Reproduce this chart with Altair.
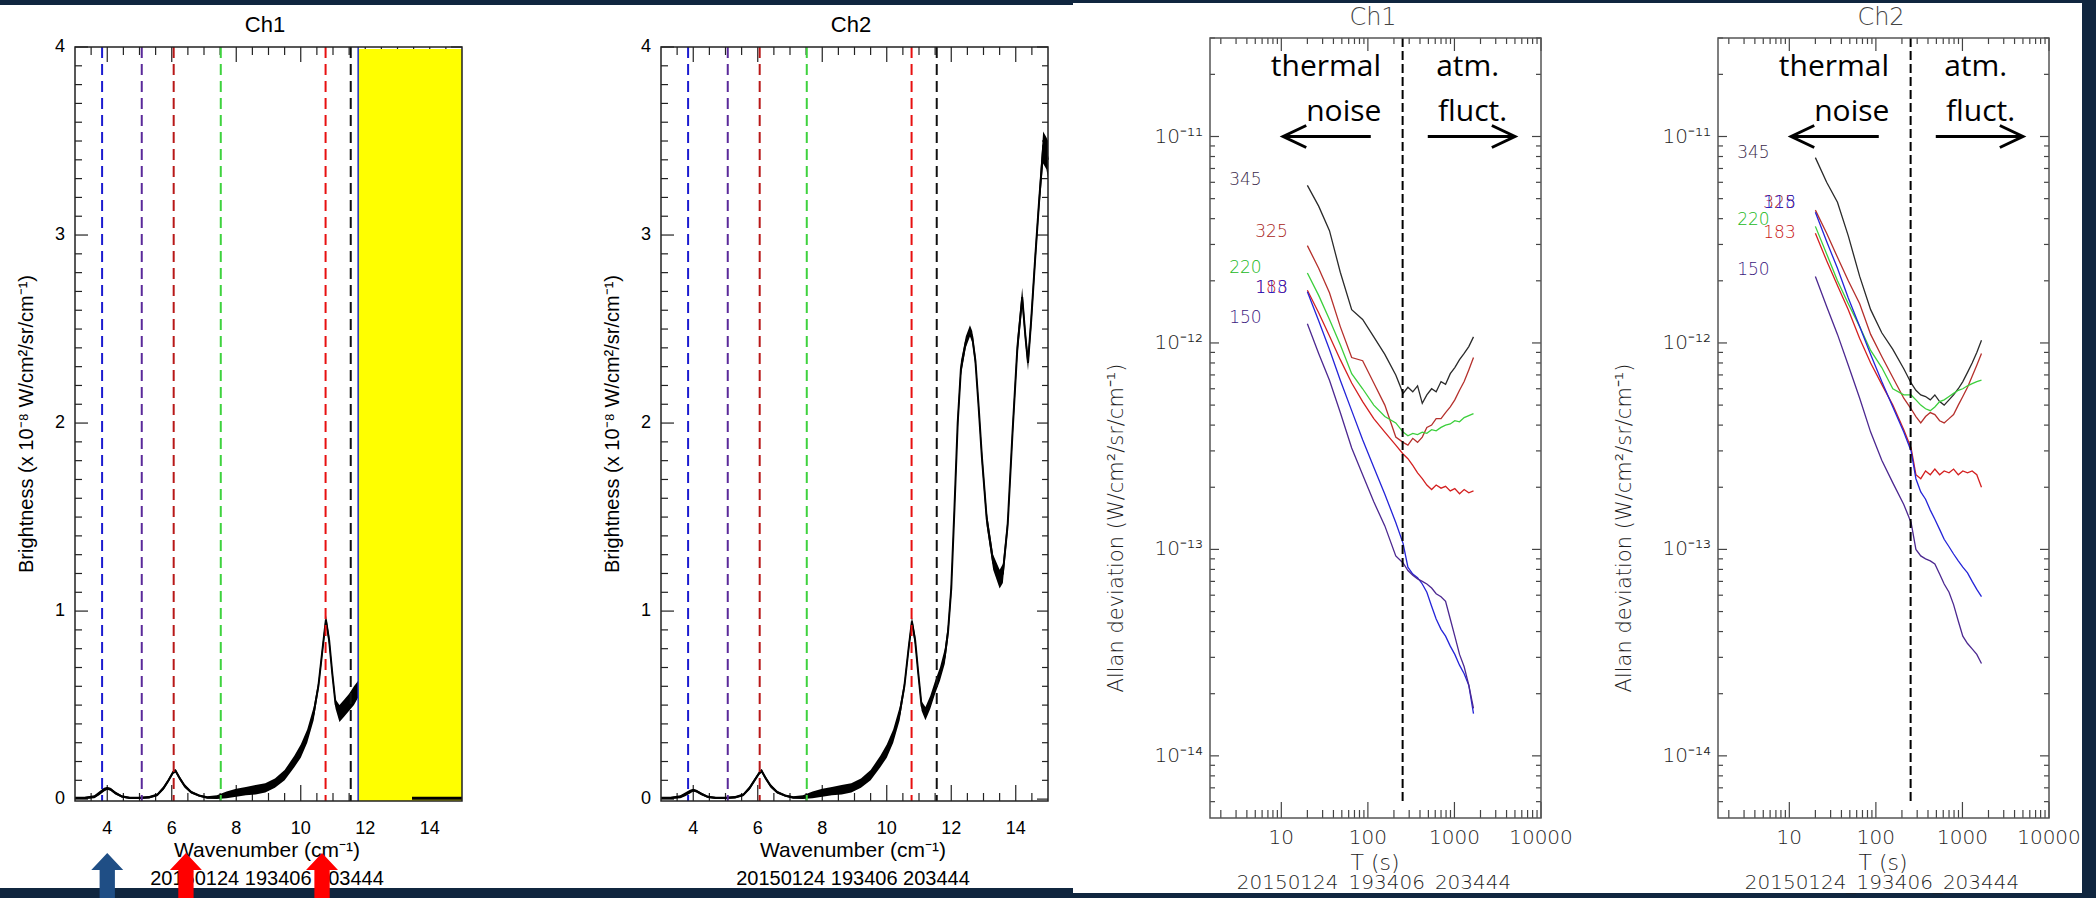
import altair as alt
import pandas as pd

# ---------------- left panels: brightness spectra ----------------
wn1 = [3.0, 3.3, 3.6, 3.75, 3.9, 4.0, 4.1, 4.25, 4.45, 4.7, 5.0, 5.3, 5.55, 5.75, 5.9, 6.05, 6.12, 6.25,
       6.4, 6.6, 6.85, 7.1, 7.4, 7.7, 8.0, 8.3, 8.6, 8.9, 9.2, 9.5, 9.8, 10.0, 10.2, 10.4, 10.55, 10.68,
       10.78, 10.88, 10.98, 11.08, 11.2, 11.35, 11.5, 11.65, 11.78]
lo1 = [0.0, 0.0, 0.005, 0.02, 0.04, 0.05, 0.045, 0.025, 0.008, 0.0, 0.0, 0.003, 0.015, 0.05, 0.09, 0.135,
       0.14, 0.1, 0.06, 0.03, 0.012, 0.002, 0.0, 0.005, 0.012, 0.02, 0.025, 0.035, 0.06, 0.1, 0.17, 0.22,
       0.3, 0.42, 0.58, 0.78, 0.93, 0.82, 0.64, 0.48, 0.41, 0.44, 0.47, 0.5, 0.54]
hi1 = [0.012, 0.012, 0.02, 0.04, 0.06, 0.065, 0.06, 0.04, 0.02, 0.012, 0.012, 0.016, 0.03, 0.07, 0.11,
       0.155, 0.16, 0.12, 0.08, 0.045, 0.025, 0.015, 0.02, 0.04, 0.055, 0.065, 0.075, 0.085, 0.11, 0.155,
       0.23, 0.29, 0.37, 0.49, 0.63, 0.83, 0.98, 0.87, 0.69, 0.53, 0.5, 0.53, 0.56, 0.6, 0.63]

wn2 = [3.0, 3.3, 3.6, 3.75, 3.9, 4.0, 4.1, 4.25, 4.45, 4.7, 5.0, 5.3, 5.55, 5.75, 5.9, 6.05, 6.12, 6.25,
       6.4, 6.6, 6.85, 7.1, 7.4, 7.7, 8.0, 8.3, 8.6, 8.9, 9.2, 9.5, 9.8, 10.0, 10.2, 10.4, 10.55, 10.68,
       10.78, 10.88, 10.98, 11.08, 11.2, 11.35, 11.5, 11.65, 11.8, 11.9, 12.0, 12.1, 12.2, 12.3, 12.45,
       12.58, 12.65, 12.75, 12.85, 12.95, 13.1, 13.3, 13.5, 13.6, 13.75, 13.9, 14.05, 14.2, 14.3, 14.38,
       14.48, 14.6, 14.72, 14.85, 14.95, 15.0]
lo2 = [0.0, 0.0, 0.005, 0.015, 0.03, 0.04, 0.035, 0.02, 0.006, 0.0, 0.0, 0.003, 0.015, 0.05, 0.09, 0.13,
       0.14, 0.1, 0.06, 0.03, 0.012, 0.002, 0.0, 0.005, 0.012, 0.02, 0.025, 0.035, 0.06, 0.1, 0.17, 0.22,
       0.3, 0.42, 0.58, 0.78, 0.92, 0.82, 0.64, 0.47, 0.42, 0.48, 0.56, 0.63, 0.72, 0.85, 1.08, 1.5, 1.95,
       2.25, 2.4, 2.46, 2.43, 2.3, 2.05, 1.78, 1.45, 1.22, 1.12, 1.15, 1.42, 1.9, 2.35, 2.62, 2.42, 2.28,
       2.5, 2.82, 3.12, 3.38, 3.35, 3.3]
hi2 = [0.012, 0.012, 0.02, 0.035, 0.05, 0.055, 0.05, 0.035, 0.018, 0.012, 0.012, 0.016, 0.03, 0.07, 0.11,
       0.15, 0.16, 0.12, 0.08, 0.045, 0.025, 0.015, 0.02, 0.04, 0.055, 0.065, 0.075, 0.085, 0.11, 0.155,
       0.23, 0.29, 0.37, 0.49, 0.63, 0.83, 0.97, 0.87, 0.69, 0.52, 0.49, 0.55, 0.63, 0.7, 0.8, 0.93, 1.16,
       1.6, 2.05, 2.33, 2.46, 2.52, 2.49, 2.36, 2.12, 1.86, 1.53, 1.3, 1.22, 1.25, 1.5, 2.0, 2.45, 2.72,
       2.5, 2.36, 2.6, 2.92, 3.22, 3.55, 3.52, 3.5]

line_wn = [3.84, 5.07, 6.06, 7.52, 10.77, 11.55]
line_col = ["#1c1cd0", "#5a2a9a", "#b81818", "#3ed23e", "#e81010", "#111111"]

mask_wn = [11.78, 15.0]
floor_wn = [13.45, 15.0]
floor_val = [0.004, 0.004]

arrow_wn = [4.0, 6.44, 10.66]
arrow_col = ["#1f4e85", "#ff0000", "#ff0000"]

left_xlab = [4, 6, 8, 10, 12, 14]
left_ylab = [0, 1, 2, 3, 4]
left_xticks_major = [4, 6, 8, 10, 12, 14]
left_xticks_minor = [3.5, 4.5, 5, 5.5, 6.5, 7, 7.5, 8.5, 9, 9.5, 10.5, 11, 11.5, 12.5, 13, 13.5, 14.5]
left_yticks_major = [0, 1, 2, 3, 4]
left_yticks_minor = [round(i * 0.1, 1) for i in range(1, 40) if i % 10]

# ---------------- right panels: Allan deviation ----------------
T = [20, 27, 36, 48, 65, 87, 117, 157, 210, 255, 290, 330, 375, 425, 480, 545, 615, 700, 790, 895,
     1010, 1145, 1295, 1465, 1660]

ch1_sig = {
    "345": [5.8e-12, 4.6e-12, 3.5e-12, 2.2e-12, 1.45e-12, 1.3e-12, 1.07e-12, 8.8e-13, 7.0e-13, 5.7e-13,
            6.1e-13, 5.8e-13, 6.2e-13, 5.1e-13, 5.6e-13, 6.0e-13, 5.8e-13, 6.5e-13, 6.3e-13, 7.1e-13,
            7.6e-13, 8.3e-13, 8.9e-13, 9.6e-13, 1.07e-12],
    "325": [2.96e-12, 2.3e-12, 1.75e-12, 1.2e-12, 8.5e-13, 8.2e-13, 6.4e-13, 5.0e-13, 3.5e-13, 3.3e-13,
            3.2e-13, 3.45e-13, 3.3e-13, 3.5e-13, 3.9e-13, 4.0e-13, 4.3e-13, 4.3e-13, 4.6e-13, 4.9e-13,
            5.3e-13, 5.9e-13, 6.5e-13, 7.4e-13, 8.5e-13],
    "220": [2.18e-12, 1.7e-12, 1.3e-12, 9.8e-13, 7.1e-13, 6.0e-13, 5.0e-13, 4.4e-13, 4.1e-13, 3.7e-13,
            3.55e-13, 3.65e-13, 3.6e-13, 3.7e-13, 3.65e-13, 3.8e-13, 3.75e-13, 3.9e-13, 4.0e-13, 4.05e-13,
            4.2e-13, 4.15e-13, 4.35e-13, 4.45e-13, 4.55e-13],
    "183": [1.8e-12, 1.4e-12, 1.08e-12, 8.3e-13, 6.4e-13, 5.2e-13, 4.3e-13, 3.7e-13, 3.2e-13, 2.9e-13,
            2.75e-13, 2.55e-13, 2.35e-13, 2.2e-13, 2.05e-13, 1.95e-13, 2.05e-13, 1.98e-13, 2.02e-13,
            1.92e-13, 1.97e-13, 1.86e-13, 1.95e-13, 1.88e-13, 1.92e-13],
    "118": [1.77e-12, 1.28e-12, 9.3e-13, 6.6e-13, 4.7e-13, 3.4e-13, 2.5e-13, 1.85e-13, 1.35e-13, 1.07e-13,
            8.2e-14, 7.6e-14, 7.3e-14, 6.8e-14, 6.2e-14, 5.3e-14, 4.6e-14, 4.1e-14, 3.8e-14, 3.4e-14,
            3.1e-14, 2.75e-14, 2.5e-14, 2.2e-14, 1.6e-14],
    "150": [1.24e-12, 8.9e-13, 6.6e-13, 4.6e-13, 3.1e-13, 2.3e-13, 1.7e-13, 1.3e-13, 9.3e-14, 8.6e-14,
            7.9e-14, 7.5e-14, 7.2e-14, 7.0e-14, 6.8e-14, 6.5e-14, 6.1e-14, 5.9e-14, 5.6e-14, 4.6e-14,
            3.8e-14, 3.1e-14, 2.7e-14, 2.2e-14, 1.7e-14],
}
ch2_sig = {
    "345": [7.9e-12, 6.0e-12, 4.8e-12, 3.3e-12, 2.1e-12, 1.45e-12, 1.12e-12, 9.3e-13, 7.5e-13, 6.4e-13,
            5.9e-13, 5.6e-13, 5.5e-13, 5.3e-13, 5.6e-13, 5.2e-13, 5.0e-13, 5.3e-13, 5.6e-13, 6.0e-13,
            6.5e-13, 7.2e-13, 8.0e-13, 9.0e-13, 1.03e-12],
    "325": [4.4e-12, 3.4e-12, 2.6e-12, 2.0e-12, 1.55e-12, 1.1e-12, 8.6e-13, 6.8e-13, 5.4e-13, 4.8e-13,
            4.4e-13, 4.1e-13, 4.4e-13, 4.6e-13, 4.5e-13, 4.2e-13, 4.1e-13, 4.3e-13, 4.5e-13, 5.0e-13,
            5.5e-13, 6.1e-13, 6.9e-13, 7.8e-13, 8.9e-13],
    "220": [3.67e-12, 2.7e-12, 2.0e-12, 1.55e-12, 1.2e-12, 9.2e-13, 7.6e-13, 6.0e-13, 5.6e-13, 5.6e-13,
            5.3e-13, 5.0e-13, 4.8e-13, 4.7e-13, 4.9e-13, 5.2e-13, 5.3e-13, 5.5e-13, 5.7e-13, 5.9e-13,
            6.0e-13, 6.2e-13, 6.35e-13, 6.5e-13, 6.6e-13],
    "183": [3.4e-12, 2.5e-12, 1.9e-12, 1.45e-12, 1.05e-12, 8.0e-13, 6.3e-13, 5.0e-13, 3.8e-13, 3.1e-13,
            2.3e-13, 2.2e-13, 2.4e-13, 2.3e-13, 2.45e-13, 2.3e-13, 2.4e-13, 2.35e-13, 2.45e-13, 2.3e-13,
            2.4e-13, 2.35e-13, 2.4e-13, 2.3e-13, 2.0e-13],
    "118": [4.3e-12, 3.1e-12, 2.3e-12, 1.65e-12, 1.2e-12, 8.8e-13, 6.5e-13, 4.9e-13, 3.7e-13, 3.0e-13,
            2.2e-13, 1.9e-13, 1.75e-13, 1.55e-13, 1.4e-13, 1.25e-13, 1.12e-13, 1.03e-13, 9.5e-14, 8.8e-14,
            8.2e-14, 7.7e-14, 7.0e-14, 6.4e-14, 5.9e-14],
    "150": [2.1e-12, 1.5e-12, 1.1e-12, 7.8e-13, 5.4e-13, 3.7e-13, 2.7e-13, 2.1e-13, 1.65e-13, 1.35e-13,
            1.0e-13, 9.3e-14, 9.0e-14, 8.8e-14, 8.5e-14, 7.6e-14, 6.8e-14, 6.2e-14, 5.4e-14, 4.5e-14,
            3.8e-14, 3.5e-14, 3.3e-14, 3.1e-14, 2.8e-14],
}
curve_names = ["345", "325", "220", "183", "118", "150"]
curve_cols = ["#2a2a2a", "#b5302c", "#3ccf3c", "#d42020", "#2424d8", "#4c2890"]
label_cols = ["#3a2a4a", "#a82420", "#22b822", "#c81414", "#1818c8", "#3c1880"]

ch1_lab_T = [2.5, 5.0, 2.5, 5.0, 5.0, 2.5]
ch1_lab_s = [6.18e-12, 3.46e-12, 2.31e-12, 1.85e-12, 1.85e-12, 1.32e-12]
ch2_lab_T = [2.5, 5.0, 2.5, 5.0, 5.0, 2.5]
ch2_lab_s = [8.36e-12, 4.78e-12, 3.95e-12, 3.42e-12, 4.78e-12, 2.26e-12]

split_T = 252
split_s = [3e-11, 5.85e-15]

ann_text = ["thermal", "noise", "atm.", "fluct."]
ann_T = [32.8, 52.7, 1422, 1620]
ann_s = [2.16e-11, 1.31e-11, 2.16e-11, 1.31e-11]
arrowL_T = [10.5, 108]
arrowR_T = [492, 5000]
arrow_s = 1e-11

right_xlab = [10, 100, 1000, 10000]
right_ylab = [1e-14, 1e-13, 1e-12, 1e-11]
right_ylab_txt = ["10\u207b\u00b9\u2074", "10\u207b\u00b9\u00b3", "10\u207b\u00b9\u00b2", "10\u207b\u00b9\u00b9"]
right_xt_major = [10, 100, 1000, 10000]
right_xt_minor = [2, 3, 4, 5, 6, 7, 8, 9, 20, 30, 40, 50, 60, 70, 80, 90, 200, 300, 400, 500, 600, 700,
                  800, 900, 2000, 3000, 4000, 5000, 6000, 7000, 8000, 9000]
right_yt_major = [1e-14, 1e-13, 1e-12, 1e-11]
right_yt_minor = [6e-15, 7e-15, 8e-15, 9e-15, 2e-14, 3e-14, 4e-14, 5e-14, 6e-14, 7e-14, 8e-14, 9e-14,
                  2e-13, 3e-13, 4e-13, 5e-13, 6e-13, 7e-13, 8e-13, 9e-13, 2e-12, 3e-12, 4e-12, 5e-12,
                  6e-12, 7e-12, 8e-12, 9e-12, 2e-11, 3e-11]

# ---------------- styling / geometry ----------------
NAVY = "#10263f"
WL = 387             # left plot-frame width
TOPL, BOTL = 9, 763  # left frame top/bottom inside its group (group top = right frames' top)
WR, HR = 331, 780
LFONT = "Liberation Sans"
RFONT = "DejaVu Sans"
RW = 200             # thin lettering on the right-hand plots
RCOL = "#1e1e1e"
one = pd.DataFrame({"a": [0]})


def xticks(vals, scale, length, y_edge, direction, color, sw=1.2):
    df = pd.DataFrame({"v": vals})
    return alt.Chart(df).mark_rule(color=color, strokeWidth=sw).encode(
        x=alt.X("v:Q", scale=scale, axis=None),
        y=alt.value(y_edge), y2=alt.value(y_edge + direction * length))


def yticks(vals, scale, length, x_edge, direction, color, sw=1.2):
    df = pd.DataFrame({"v": vals})
    return alt.Chart(df).mark_rule(color=color, strokeWidth=sw).encode(
        y=alt.Y("v:Q", scale=scale, axis=None),
        x=alt.value(x_edge), x2=alt.value(x_edge + direction * length))


def txt(s, x, y, size, font, color="black", angle=0, align="center", weight=400):
    return alt.Chart(one).mark_text(
        text=s, fontSize=size, font=font, color=color, angle=angle, align=align,
        baseline="middle", fontWeight=weight).encode(x=alt.value(x), y=alt.value(y))


def box(x, x2, y, y2, color):
    return alt.Chart(one).mark_rect(color=color).encode(
        x=alt.value(x), x2=alt.value(x2), y=alt.value(y), y2=alt.value(y2))


def xlabels(vals, scale, y, size, font, color, texts=None, weight=400):
    df = pd.DataFrame({"v": vals, "t": texts if texts else [str(v) for v in vals]})
    return alt.Chart(df).mark_text(fontSize=size, font=font, color=color, baseline="middle",
                                   fontWeight=weight).encode(
        x=alt.X("v:Q", scale=scale, axis=None), y=alt.value(y), text="t:N")


def ylabels(vals, scale, x, size, font, color, texts=None, weight=400):
    df = pd.DataFrame({"v": vals, "t": texts if texts else [str(v) for v in vals]})
    return alt.Chart(df).mark_text(fontSize=size, font=font, color=color, baseline="middle",
                                   align="right", fontWeight=weight).encode(
        y=alt.Y("v:Q", scale=scale, axis=None), x=alt.value(x), text="t:N")


def left_panel(wn, lo, hi, title, ch1, group_w):
    xs = alt.Scale(domain=[3, 15], range=[0, WL], nice=False, zero=False)
    ys = alt.Scale(domain=[-0.01, 4], range=[BOTL, TOPL], nice=False, zero=False)
    spec = pd.DataFrame({"wn": wn, "lo": lo, "hi": hi})
    spec["mid"] = (spec["lo"] + spec["hi"]) / 2
    L = []
    L.append(xticks(left_xticks_major, xs, 16, BOTL, -1, "#222"))
    L.append(xticks(left_xticks_minor, xs, 8, BOTL, -1, "#222"))
    L.append(xticks(left_xticks_major, xs, 15, TOPL, 1, "#222"))
    L.append(xticks(left_xticks_minor, xs, 8, TOPL, 1, "#222"))
    L.append(yticks(left_yticks_major, ys, 13, 0, 1, "#222"))
    L.append(yticks(left_yticks_minor, ys, 7, 0, 1, "#222"))
    L.append(yticks(left_yticks_major, ys, 11, WL, -1, "#222"))
    L.append(yticks(left_yticks_minor, ys, 6, WL, -1, "#222"))
    L.append(alt.Chart(spec).mark_area(color="black").encode(
        x=alt.X("wn:Q", scale=xs, axis=None),
        y=alt.Y("lo:Q", scale=ys, axis=None), y2="hi:Q"))
    L.append(alt.Chart(spec).mark_line(color="black", strokeWidth=2).encode(
        x=alt.X("wn:Q", scale=xs, axis=None), y=alt.Y("mid:Q", scale=ys, axis=None)))
    dash = pd.DataFrame({"wn": line_wn, "c": line_col})
    L.append(alt.Chart(dash).mark_rule(strokeWidth=2, strokeDash=[11, 6]).encode(
        x=alt.X("wn:Q", scale=xs, axis=None), color=alt.Color("c:N", scale=None, legend=None),
        y=alt.value(TOPL), y2=alt.value(BOTL)))
    if ch1:
        m = pd.DataFrame({"x0": [mask_wn[0]], "x1": [mask_wn[1]], "y0": [-0.01], "y1": [3.99]})
        L.append(alt.Chart(m).mark_rect(color="#ffff00").encode(
            x=alt.X("x0:Q", scale=xs, axis=None), x2="x1:Q",
            y=alt.Y("y0:Q", scale=ys, axis=None), y2="y1:Q"))
        L.append(alt.Chart(pd.DataFrame({"wn": [mask_wn[0]]})).mark_rule(
            color="#2030c0", strokeWidth=1.5).encode(
            x=alt.X("wn:Q", scale=xs, axis=None), y=alt.value(TOPL), y2=alt.value(BOTL)))
        fl = pd.DataFrame({"wn": floor_wn, "b": floor_val})
        L.append(alt.Chart(fl).mark_line(color="black", strokeWidth=3).encode(
            x=alt.X("wn:Q", scale=xs, axis=None), y=alt.Y("b:Q", scale=ys, axis=None)))
    L.append(alt.Chart(one).mark_rect(filled=False, stroke="#222", strokeWidth=1.5).encode(
        x=alt.value(0), x2=alt.value(WL), y=alt.value(TOPL), y2=alt.value(BOTL)))
    L.append(xlabels(left_xlab, xs, BOTL + 28, 18, LFONT, "black"))
    L.append(ylabels(left_ylab, ys, -10, 18, LFONT, "black"))
    L.append(txt(title, 190, TOPL - 22, 22, LFONT))
    L.append(txt("Brightness (x 10\u207b\u2078 W/cm\u00b2/sr/cm\u207b\u00b9)", -48, TOPL + 377, 20, LFONT,
                 angle=270))
    L.append(txt("Wavenumber (cm\u207b\u00b9)", 192, TOPL + 804, 21, LFONT))
    L.append(txt("20150124 193406 203444", 192, TOPL + 832, 20, LFONT))
    if ch1:
        L.append(box(-75, 998, -38, -33, NAVY))
        L.append(box(-75, 998, 850, 860, NAVY))
        arr = pd.DataFrame({"wn": arrow_wn, "c": arrow_col})
        path = "M0,-1 L0.71,-0.24 L0.34,-0.24 L0.34,1 L-0.34,1 L-0.34,-0.24 L-0.71,-0.24 Z"
        L.append(alt.Chart(arr).mark_point(shape=path, size=2025, filled=True, opacity=1,
                                           strokeWidth=0).encode(
            x=alt.X("wn:Q", scale=xs, axis=None), y=alt.value(837.5),
            color=alt.Color("c:N", scale=None, legend=None)))
    return alt.layer(*L).properties(width=group_w, height=BOTL)


def right_panel(sig, lab_T, lab_s, title, first, last, group_w):
    xs = alt.Scale(type="log", domain=[1.5, 10000], range=[0, WR], nice=False)
    ys = alt.Scale(type="log", domain=[5e-15, 3e-11], range=[HR, 0], nice=False)
    rows = []
    for name in curve_names:
        for t, s in zip(T, sig[name]):
            rows.append({"T": t, "s": s, "name": name})
    df = pd.DataFrame(rows)
    cscale = alt.Scale(domain=curve_names, range=curve_cols)
    L = []
    L.append(xticks(right_xt_major, xs, 16, HR, -1, "#444"))
    L.append(xticks(right_xt_minor, xs, 8, HR, -1, "#444"))
    L.append(xticks(right_xt_major, xs, 13, 0, 1, "#444"))
    L.append(xticks(right_xt_minor, xs, 6, 0, 1, "#444"))
    L.append(yticks(right_yt_major, ys, 9, 0, 1, "#444"))
    L.append(yticks(right_yt_minor, ys, 5, 0, 1, "#444"))
    L.append(yticks(right_yt_major, ys, 9, WR, -1, "#444"))
    L.append(yticks(right_yt_minor, ys, 5, WR, -1, "#444"))
    L.append(alt.Chart(df).mark_line(strokeWidth=1.3).encode(
        x=alt.X("T:Q", scale=xs, axis=None),
        y=alt.Y("s:Q", scale=ys, axis=None),
        color=alt.Color("name:N", scale=cscale, legend=None),
        detail="name:N"))
    lab = pd.DataFrame({"T": lab_T, "s": lab_s, "name": curve_names, "c": label_cols})
    L.append(alt.Chart(lab).mark_text(align="left", baseline="middle", fontSize=17,
                                      font=RFONT, fontWeight=RW).encode(
        x=alt.X("T:Q", scale=xs, axis=None), y=alt.Y("s:Q", scale=ys, axis=None),
        text="name:N", color=alt.Color("c:N", scale=None, legend=None)))
    sp = pd.DataFrame({"T": [split_T, split_T], "s": split_s})
    L.append(alt.Chart(sp).mark_line(color="black", strokeWidth=2, strokeDash=[9, 4]).encode(
        x=alt.X("T:Q", scale=xs, axis=None), y=alt.Y("s:Q", scale=ys, axis=None)))
    ann = pd.DataFrame({"T": ann_T, "s": ann_s, "t": ann_text})
    L.append(alt.Chart(ann).mark_text(fontSize=30, font="Open Sans", color="black",
                                      baseline="middle").encode(
        x=alt.X("T:Q", scale=xs, axis=None), y=alt.Y("s:Q", scale=ys, axis=None), text="t:N"))
    ar = pd.DataFrame({"a": [arrowL_T[0], arrowR_T[0]], "b": [arrowL_T[1], arrowR_T[1]],
                       "s": [arrow_s, arrow_s]})
    L.append(alt.Chart(ar).mark_rule(color="black", strokeWidth=3).encode(
        x=alt.X("a:Q", scale=xs, axis=None), x2="b:Q", y=alt.Y("s:Q", scale=ys, axis=None)))
    hl = pd.DataFrame({"T": [arrowL_T[0]], "s": [arrow_s]})
    hr = pd.DataFrame({"T": [arrowR_T[1]], "s": [arrow_s]})
    L.append(alt.Chart(hl).mark_point(shape="M2.1,-1 L0,0 L2.1,1", size=484, filled=False,
                                      color="black", strokeWidth=3, opacity=1).encode(
        x=alt.X("T:Q", scale=xs, axis=None), y=alt.Y("s:Q", scale=ys, axis=None)))
    L.append(alt.Chart(hr).mark_point(shape="M-2.1,-1 L0,0 L-2.1,1", size=484, filled=False,
                                      color="black", strokeWidth=3, opacity=1).encode(
        x=alt.X("T:Q", scale=xs, axis=None), y=alt.Y("s:Q", scale=ys, axis=None)))
    L.append(alt.Chart(one).mark_rect(filled=False, stroke="#555", strokeWidth=1.5).encode(
        x=alt.value(0), x2=alt.value(WR), y=alt.value(0), y2=alt.value(HR)))
    L.append(xlabels(right_xlab, xs, HR + 20, 20, RFONT, RCOL, weight=RW))
    L.append(ylabels(right_ylab, ys, -7, 20, RFONT, RCOL, right_ylab_txt, weight=RW))
    L.append(txt(title, 163, -20, 24, RFONT, color="#444", weight=RW))
    L.append(txt("Allan  deviation  (W/cm\u00b2/sr/cm\u207b\u00b9)", -93, 490, 21, RFONT,
                 color=RCOL, angle=270, weight=RW))
    L.append(txt("T (s)", 165, 825, 22, RFONT, color=RCOL, weight=RW))
    L.append(txt("20150124_193406_203444", 164, 845, 20, RFONT, color=RCOL, weight=RW))
    if first:
        L.append(box(-137, 886, -38, -35, NAVY))
        L.append(box(-137, 886, 855, 860, NAVY))
    if last:
        L.append(box(364, 378, -38, 860, NAVY))
    return alt.layer(*L).properties(width=group_w, height=HR)


pL1 = left_panel(wn1, lo1, hi1, "Ch1", True, 586)
pL2 = left_panel(wn2, lo2, hi2, "Ch2", False, 549)
pR1 = right_panel(ch1_sig, ch1_lab_T, ch1_lab_s, "Ch1", True, False, 508)
pR2 = right_panel(ch2_sig, ch2_lab_T, ch2_lab_s, "Ch2", False, True, WR)

chart = alt.hconcat(pL1, pL2, pR1, pR2, spacing=0, bounds="flush").properties(
    padding=0, background="white").configure_view(strokeWidth=0)

chart.save("out.html", embed_options={"renderer": "svg", "actions": False})
